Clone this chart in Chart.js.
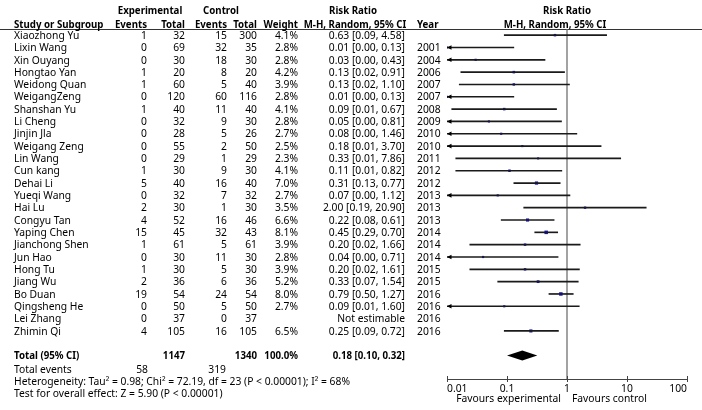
<!DOCTYPE html>
<html>
<head>
<meta charset="utf-8">
<script src="https://cdn.jsdelivr.net/npm/chart.js@4.4.1/dist/chart.umd.min.js"></script>
<style>
  body { margin: 0; background: #ffffff; }
  canvas { display: block; }
</style>
</head>
<body>
<canvas id="forestChart" width="702" height="410"></canvas>
<script>
// Forest plot: risk ratio, experimental vs control

const studies = ['Xiaozhong Yu', 'Lixin Wang', 'Xin Ouyang', 'Hongtao Yan', 'Weidong Quan', 'WeigangZeng',
    'Shanshan Yu', 'Li Cheng', 'Jinjin Jla', 'Weigang Zeng', 'Lin Wang', 'Cun kang', 'Dehai Li', 'Yueqi Wang',
    'Hai Lu', 'Congyu Tan', 'Yaping Chen', 'Jianchong Shen', 'Jun Hao', 'Hong Tu', 'Jiang Wu', 'Bo Duan',
    'Qingsheng He', 'Lei Zhang', 'Zhimin Qi'];
const expEvents = [1, 0, 0, 1, 1, 0, 1, 0, 0, 0, 0, 1, 5, 0, 2, 4, 15, 1, 0, 1, 2, 19, 0, 0, 4];
const expTotal = [32, 69, 30, 20, 60, 120, 40, 32, 28, 55, 29, 30, 40, 32, 30, 52, 45, 61, 30, 30, 36, 54, 50, 37, 105];
const ctrlEvents = [15, 32, 18, 8, 5, 60, 11, 9, 5, 2, 1, 9, 16, 7, 1, 16, 32, 5, 11, 5, 6, 24, 5, 0, 16];
const ctrlTotal = [300, 35, 30, 20, 40, 116, 40, 30, 26, 50, 29, 30, 40, 32, 30, 46, 43, 61, 30, 30, 36, 54, 50, 37, 105];
const weights = [4.1, 2.8, 2.8, 4.2, 3.9, 2.8, 4.1, 2.8, 2.7, 2.5, 2.3, 4.1, 7.0, 2.7, 3.5, 6.6, 8.1, 3.9, 2.8, 3.9, 5.2, 8.0, 2.7, null, 6.5];
const riskRatio = [0.63, 0.01, 0.03, 0.13, 0.13, 0.01, 0.09, 0.05, 0.08, 0.18, 0.33, 0.11, 0.31, 0.07, 2.00, 0.22, 0.45, 0.20, 0.04, 0.20, 0.33, 0.79, 0.09, null, 0.25];
const ciLower = [0.09, 0.004, 0.004, 0.017, 0.016, 0.004, 0.012, 0.004, 0.004, 0.008, 0.014, 0.014, 0.13, 0.004, 0.19, 0.08, 0.29, 0.024, 0.004, 0.024, 0.07, 0.50, 0.008, null, 0.09];
const ciUpper = [4.58, 0.13, 0.43, 0.91, 1.10, 0.13, 0.67, 0.81, 1.46, 3.70, 7.86, 0.82, 0.77, 1.12, 20.90, 0.61, 0.70, 1.66, 0.71, 1.61, 1.54, 1.27, 1.60, null, 0.72];
const years = ['', '2001', '2004', '2006', '2007', '2007', '2008', '2009', '2010', '2010', '2011', '2012', '2012', '2013',
    '2013', '2013', '2014', '2014', '2014', '2015', '2015', '2016', '2016', '2016', '2016'];

const totalExp = 1147;
const totalCtrl = 1340;
const totalWeight = 100.0;
const pooled = [0.18, 0.10, 0.32]; // estimate, lower, upper
const totalEvents = [58, 319];
const heterogeneityText = 'Heterogeneity: Tau\u00B2 = 0.98; Chi\u00B2 = 72.19, df = 23 (P < 0.00001); I\u00B2 = 68%';
const overallText = 'Test for overall effect: Z = 5.90 (P < 0.00001)';

const xTicks = [0.01, 0.1, 1, 10, 100];
const xTickLabels = ['0.01', '0.1', '1', '10', '100'];

const FONT = "'Noto Sans', sans-serif";
const FONT_SIZE = 10.3;
const BOLD_SIZE = 9.7;
const totalRow = studies.length + 1;

const rowIdx = studies.map((s, i) => i);

// Plugin that draws the table, rules, arrows and the pooled diamond
const forestPlugin = {
    id: 'forestPlot',
    beforeDatasetsDraw(chart) {
        const { ctx, chartArea, scales: { x, y } } = chart;
        ctx.save();
        // header rule
        const ruleY = Math.round(y.getPixelForValue(-0.5)) + 0.5;
        ctx.strokeStyle = '#333';
        ctx.lineWidth = 1;
        ctx.beginPath();
        ctx.moveTo(0, ruleY);
        ctx.lineTo(chart.width, ruleY);
        ctx.stroke();

        // line of no effect
        const x1 = x.getPixelForValue(1);
        ctx.strokeStyle = '#8c8c8c';
        ctx.lineWidth = 1.6;
        ctx.beginPath();
        ctx.moveTo(x1, ruleY);
        ctx.lineTo(x1, chartArea.bottom);
        ctx.stroke();
        ctx.restore();
    },
    afterDatasetsDraw(chart) {
        const { ctx, chartArea, scales: { x, y } } = chart;
        ctx.save();
        ctx.fillStyle = '#000';

        // arrows for intervals running past the axis minimum
        const xMin = x.min;
        const left = x.getPixelForValue(xMin);
        ciLower.forEach((lo, i) => {
            if (lo === null || lo >= xMin) return;
            const py = y.getPixelForValue(i);
            ctx.beginPath();
            ctx.moveTo(left, py);
            ctx.lineTo(left + 4.5, py - 2.3);
            ctx.lineTo(left + 4.5, py + 2.3);
            ctx.closePath();
            ctx.fill();
        });

        // pooled diamond
        const dy = y.getPixelForValue(totalRow);
        ctx.beginPath();
        ctx.moveTo(x.getPixelForValue(pooled[1]), dy);
        ctx.lineTo(x.getPixelForValue(pooled[0]), dy - 5);
        ctx.lineTo(x.getPixelForValue(pooled[2]), dy);
        ctx.lineTo(x.getPixelForValue(pooled[0]), dy + 5);
        ctx.closePath();
        ctx.fill();

        // small upward tick marks on the axis
        ctx.strokeStyle = '#444';
        ctx.lineWidth = 1;
        xTicks.forEach(v => {
            const px = Math.round(x.getPixelForValue(v)) + 0.5;
            ctx.beginPath();
            ctx.moveTo(px, chartArea.bottom - 3);
            ctx.lineTo(px, chartArea.bottom);
            ctx.stroke();
        });
        ctx.restore();
    },
    afterDraw(chart) {
        const { ctx, scales: { x, y } } = chart;
        ctx.save();
        ctx.fillStyle = '#000';
        ctx.textBaseline = 'alphabetic';

        // place text so its cap height is centred on the row
        const textAt = (str, px, py, align, bold) => {
            const size = bold ? BOLD_SIZE : FONT_SIZE;
            ctx.font = (bold ? 'bold ' : '') + size + 'px ' + FONT;
            ctx.textAlign = align;
            ctx.fillText(str, px, py + size * 0.36);
        };
        const text = (str, px, row, align, bold) => textAt(str, px, y.getPixelForValue(row), align, bold);

        // headers
        text('Experimental', 150, -1.96, 'center', true);
        text('Control', 221, -1.96, 'center', true);
        text('Risk Ratio', 353, -1.96, 'center', true);
        text('Risk Ratio', x.getPixelForValue(1), -1.96, 'center', true);
        text('Study or Subgroup', 14, -0.9, 'left', true);
        text('Events', 147, -0.9, 'right', true);
        text('Total', 185, -0.9, 'right', true);
        text('Events', 227, -0.9, 'right', true);
        text('Total', 257, -0.9, 'right', true);
        text('Weight', 298, -0.9, 'right', true);
        text('M-H, Random, 95% CI', 355, -0.9, 'center', true);
        text('Year', 417, -0.9, 'left', true);
        text('M-H, Random, 95% CI', 555, -0.9, 'center', true);

        // study rows
        rowIdx.forEach(i => {
            text(studies[i], 14, i, 'left');
            text(String(expEvents[i]), 147, i, 'right');
            text(String(expTotal[i]), 185, i, 'right');
            text(String(ctrlEvents[i]), 227, i, 'right');
            text(String(ctrlTotal[i]), 257, i, 'right');
            if (weights[i] !== null) text(weights[i].toFixed(1) + '%', 298, i, 'right');
            const ci = riskRatio[i] === null ? 'Not estimable'
                : riskRatio[i].toFixed(2) + ' [' + ciLower[i].toFixed(2) + ', ' + ciUpper[i].toFixed(2) + ']';
            text(ci, 405, i, 'right');
            text(years[i], 417, i, 'left');
        });

        // totals
        text('Total (95% CI)', 14, totalRow, 'left', true);
        text(String(totalExp), 185, totalRow, 'right', true);
        text(String(totalCtrl), 257, totalRow, 'right', true);
        text(totalWeight.toFixed(1) + '%', 298, totalRow, 'right', true);
        text(pooled[0].toFixed(2) + ' [' + pooled[1].toFixed(2) + ', ' + pooled[2].toFixed(2) + ']', 405, totalRow, 'right', true);
        text('Total events', 14, totalRow + 1.1, 'left');
        text(String(totalEvents[0]), 148, totalRow + 1.1, 'right');
        text(String(totalEvents[1]), 226, totalRow + 1.1, 'right');
        text(heterogeneityText, 14, totalRow + 2.08, 'left');
        text(overallText, 14, totalRow + 3.02, 'left');

        // favours labels
        const x1 = x.getPixelForValue(1);
        textAt('Favours experimental', x1 - 6, 398, 'right');
        textAt('Favours control', x1 + 5, 398, 'left');
        ctx.restore();
    }
};

function initForestChart() {
    const ctx = document.getElementById('forestChart').getContext('2d');

    const ciBars = [];
    const points = [];
    rowIdx.forEach(i => {
        if (riskRatio[i] === null) return;
        ciBars.push({ x: [ciLower[i], ciUpper[i]], y: i });
        points.push({ x: riskRatio[i], y: i, w: weights[i] });
    });

    new Chart(ctx, {
        type: 'scatter',
        data: {
            datasets: [
                {
                    type: 'bar',
                    label: '95% CI',
                    indexAxis: 'y',
                    data: ciBars,
                    backgroundColor: '#1a1a1a',
                    barThickness: 1,
                    borderWidth: 0,
                    grouped: false
                },
                {
                    label: 'Risk ratio',
                    data: points,
                    pointStyle: 'rect',
                    backgroundColor: '#1818c8',
                    borderWidth: 0,
                    clip: 0,
                    pointRadius: c => {
                        const w = c.raw && c.raw.w ? c.raw.w : 2;
                        return (1.5 + w * 0.25) / Math.SQRT2;
                    }
                }
            ]
        },
        plugins: [forestPlugin],
        options: {
            responsive: false,
            animation: false,
            layout: {
                padding: { left: 447, right: 15, top: 29, bottom: 0 }
            },
            plugins: {
                legend: { display: false },
                tooltip: { enabled: false }
            },
            scales: {
                x: {
                    type: 'logarithmic',
                    min: 0.01,
                    max: 100,
                    offset: false,
                    afterBuildTicks: scale => {
                        scale.ticks = xTicks.map(v => ({ value: v }));
                    },
                    afterFit: scale => {
                        scale.height = 31;
                    },
                    ticks: {
                        align: 'inner',
                        padding: 1,
                        color: '#000',
                        font: { family: FONT, size: FONT_SIZE },
                        callback: (value) => {
                            const k = xTicks.indexOf(value);
                            return k >= 0 ? xTickLabels[k] : '';
                        }
                    },
                    grid: {
                        offset: false,
                        drawOnChartArea: false,
                        drawTicks: true,
                        tickLength: 3,
                        color: '#444'
                    },
                    border: { display: true, color: '#444', width: 1 }
                },
                y: {
                    type: 'linear',
                    reverse: true,
                    offset: false,
                    grid: { offset: false },
                    min: -0.5,
                    max: 27.9,
                    display: false
                }
            }
        }
    });
}

document.addEventListener('DOMContentLoaded', initForestChart);
</script>
</body>
</html>
